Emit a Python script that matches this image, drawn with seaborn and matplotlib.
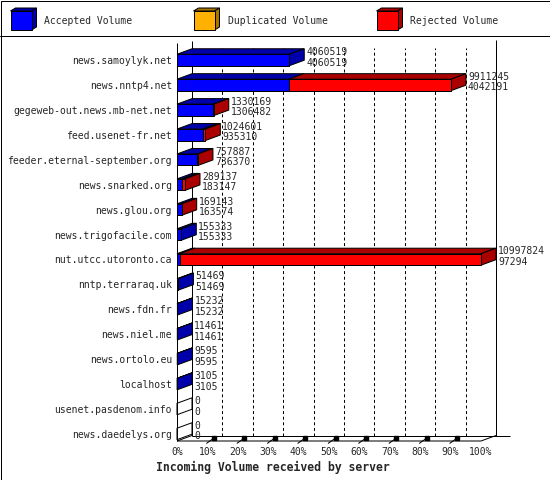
import matplotlib
matplotlib.use("Agg")
import matplotlib.pyplot as plt
from matplotlib.patches import Polygon, Rectangle
import seaborn as sns
import pandas as pd

# data
servers = [
    "news.samoylyk.net", "news.nntp4.net", "gegeweb-out.news.mb-net.net",
    "feed.usenet-fr.net", "feeder.eternal-september.org", "news.snarked.org",
    "news.glou.org", "news.trigofacile.com", "nut.utcc.utoronto.ca",
    "nntp.terraraq.uk", "news.fdn.fr", "news.niel.me", "news.ortolo.eu",
    "localhost", "usenet.pasdenom.info", "news.daedelys.org",
]
total_volume = [4060519, 9911245, 1330169, 1024601, 757887, 289137, 169143, 155333,
                10997824, 51469, 15232, 11461, 9595, 3105, 0, 0]
accepted_volume = [4060519, 4042191, 1306482, 935310, 736370, 183147, 163574, 155333,
                   97294, 51469, 15232, 11461, 9595, 3105, 0, 0]
legend_labels = ["Accepted Volume", "Duplicated Volume", "Rejected Volume"]
pct_labels = [f"{k * 10}%" for k in range(11)]
title = "Incoming Volume received by server"

BLUE, BLUE_D = "#0000ff", "#0000aa"
YELLOW, YELLOW_D = "#ffb000", "#a87400"
RED, RED_D = "#ff0000", "#aa0000"
LW = 0.72

df = pd.DataFrame({"server": servers, "total": total_volume, "accepted": accepted_volume})

sns.set_theme(style="white")
plt.rcParams["font.family"] = ["DejaVu Sans Mono"]

W, H = 550, 480
fig = plt.figure(figsize=(W / 100, H / 100), dpi=100)

# layout in pixels
X0, X100, AX_RIGHT = 177, 481, 549
Y_TOP, Y_FLOOR = 36, 441
ROW0, ROW_STEP = 60, 24.93
DEPTH_X, DEPTH_Y = 15, 5.5
BAR_H = 0.46

# frame + legend layer
bg = fig.add_axes([0, 0, 1, 1], zorder=0)
bg.set_xlim(0, W)
bg.set_ylim(H, 0)
bg.axis("off")
bg.add_patch(Rectangle((0.5, 0.5), W - 1, H - 1, fill=False, lw=LW, ec="black"))
bg.plot([0, W], [36, 36], color="black", lw=LW)
for x, (c, cd), lab in zip([10.5, 193.5, 376.5],
                           [(BLUE, BLUE_D), (YELLOW, YELLOW_D), (RED, RED_D)],
                           legend_labels):
    bg.add_patch(Polygon([(x, 11), (x + 21, 11), (x + 26, 8), (x + 5, 8)],
                         fc=cd, ec="black", lw=LW))
    bg.add_patch(Polygon([(x + 21, 11), (x + 26, 8), (x + 26, 27), (x + 21, 30)],
                         fc=cd, ec="black", lw=LW))
    bg.add_patch(Rectangle((x, 11), 21, 19, fc=c, ec="black", lw=LW))
    bg.text(x + 34, 20.5, lab, fontsize=7, va="center", ha="left")
fig.text(156 / W, 1 - 467 / H, title, fontsize=8.3, fontweight="bold",
         va="center", ha="left")

# main axes
ax = fig.add_axes([X0 / W, 1 - Y_FLOOR / H, (AX_RIGHT - X0) / W, (Y_FLOOR - Y_TOP) / H],
                  zorder=1)
ax.set_facecolor("none")

sns.barplot(data=df, x="total", y="server", color=RED, orient="h", width=BAR_H,
            saturation=1, edgecolor="black", linewidth=LW, ax=ax)
sns.barplot(data=df, x="accepted", y="server", color=BLUE, orient="h", width=BAR_H,
            saturation=1, edgecolor="black", linewidth=LW, ax=ax)
for p in ax.patches:
    p.set_zorder(3)

vmax = max(total_volume)
px_x = (X100 - X0) / vmax
dx = DEPTH_X / px_x
dy = -DEPTH_Y / ROW_STEP
y_floor = (Y_FLOOR - ROW0) / ROW_STEP
ax.set_xlim(0, (AX_RIGHT - X0) / px_x)
ax.set_ylim(y_floor, (Y_TOP - ROW0) / ROW_STEP)


def py(pix):
    return (pix - ROW0) / ROW_STEP


def line(xs, ys, **kw):
    ax.plot(xs, ys, color="black", lw=LW, clip_on=False, solid_capstyle="butt", **kw)


# back grid and walls
for k in range(1, 10):
    xg = vmax * k / 10 + dx
    line([xg, xg], [y_floor + dy, py(48)], ls=(0, (3, 2.6)), zorder=0.5)
line([vmax + dx, vmax + dx], [y_floor + dy, py(40)], zorder=0.5)
line([0, 0], [y_floor, py(43)], zorder=1)
line([dx, dx], [y_floor + dy, py(41)], zorder=1)
line([0, vmax, vmax + dx], [y_floor, y_floor, y_floor + dy], zorder=1)
line([0, dx], [y_floor, y_floor + dy], zorder=1)
line([dx, (510 - X0) / px_x], [y_floor + dy, y_floor + dy], zorder=1)
for k in range(1, 10):
    xt = vmax * k / 10
    line([xt - 1 / px_x, xt + 8 / px_x], [y_floor + 2.5 / ROW_STEP, y_floor - 4 / ROW_STEP],
         zorder=1)
    ax.plot([xt + 6.5 / px_x], [y_floor - 3 / ROW_STEP], marker="s", ms=2.2, color="black",
            clip_on=False, zorder=1)

# 3d faces of the bars
h = BAR_H / 2
for i, (tot, acc) in enumerate(zip(total_volume, accepted_volume)):
    top = i - h
    for a, b, cd in [(0, acc, BLUE_D), (acc, tot, RED_D)]:
        if b > a:
            ax.add_patch(Polygon([(a, top), (b, top), (b + dx, top + dy), (a + dx, top + dy)],
                                 fc=cd, ec="black", lw=LW, zorder=2, clip_on=False))
    side = RED_D if tot > acc else (BLUE_D if tot > 0 else "white")
    ax.add_patch(Polygon([(tot, top), (tot, i + h), (tot + dx, i + h + dy), (tot + dx, top + dy)],
                         fc=side, ec="black", lw=LW, zorder=2, clip_on=False))
    xl = tot + dx + 2 / px_x
    ax.text(xl, i - 8 / ROW_STEP, f"{tot}", fontsize=7, va="center", ha="left", zorder=4)
    ax.text(xl, i + 2.5 / ROW_STEP, f"{acc}", fontsize=7, va="center", ha="left", zorder=4)

ax.set_xticks([vmax * k / 10 for k in range(11)])
ax.set_xticklabels(pct_labels, fontsize=7)
ax.tick_params(axis="x", length=0, pad=4.5)
ax.tick_params(axis="y", length=0, pad=3.6, labelsize=7)
ax.set_xlabel("")
ax.set_ylabel("")
for s in ax.spines.values():
    s.set_visible(False)

fig.savefig("out.png", dpi=100)
